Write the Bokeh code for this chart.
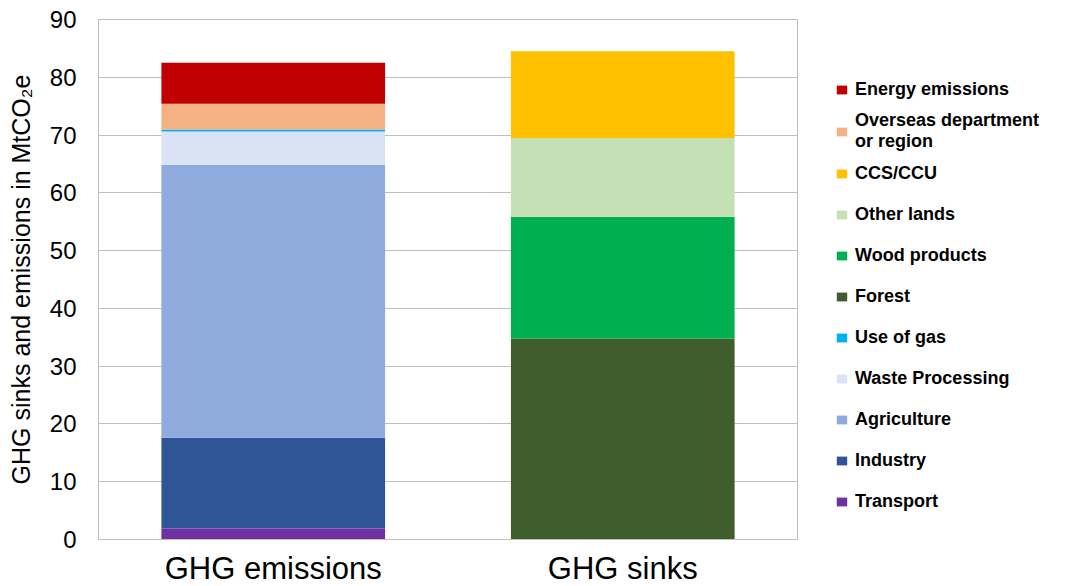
from bokeh.plotting import figure
from bokeh.models import Range1d, Legend, LegendItem, FactorRange
from bokeh.embed import file_html
from bokeh.resources import INLINE

categories = ["GHG emissions", "GHG sinks"]
transport = [1.9, 0]
industry = [15.7, 0]
agriculture = [47.25, 0]
waste = [5.75, 0]
use_of_gas = [0.35, 0]
overseas = [4.45, 0]
energy = [7.1, 0]
forest = [0, 34.8]
wood = [0, 21.0]
other_lands = [0, 13.7]
ccs = [0, 15.0]

series = [
    ("transport", "Transport", transport, "#7030A0"),
    ("industry", "Industry", industry, "#2F5597"),
    ("agriculture", "Agriculture", agriculture, "#8FAADC"),
    ("waste", "Waste Processing", waste, "#DAE3F3"),
    ("gas", "Use of gas", use_of_gas, "#00B0F0"),
    ("overseas", "Overseas department\nor region", overseas, "#F4B183"),
    ("energy", "Energy emissions", energy, "#C00000"),
    ("forest", "Forest", forest, "#3F5E2C"),
    ("wood", "Wood products", wood, "#00B050"),
    ("other", "Other lands", other_lands, "#C5E0B4"),
    ("ccs", "CCS/CCU", ccs, "#FFC000"),
]
legend_order = ["energy", "overseas", "ccs", "other", "wood", "forest",
                "gas", "waste", "agriculture", "industry", "transport"]

data = {"cat": categories}
for key, _, vals, _ in series:
    data[key] = vals

FONT = "Liberation Sans"
GRID = "#BFBFBF"

p = figure(x_range=FactorRange(*categories), y_range=Range1d(0, 90),
           frame_width=699, frame_height=520,
           min_border_left=98, min_border_top=19, min_border_bottom=0,
           output_backend="svg", toolbar_location=None)

renderers = p.vbar_stack([s[0] for s in series], x="cat", width=0.64,
                         source=data, color=[s[3] for s in series],
                         line_color=None)
rmap = {s[0]: r for s, r in zip(series, renderers)}
lmap = {s[0]: s[1] for s in series}

p.outline_line_color = GRID
p.xgrid.grid_line_color = None
p.ygrid.grid_line_color = GRID
p.ygrid.grid_line_width = 1

p.yaxis.ticker = list(range(0, 91, 10))
p.yaxis.axis_line_color = GRID
p.yaxis.major_tick_line_color = None
p.yaxis.minor_tick_line_color = None
p.yaxis.major_tick_out = 0
p.yaxis.minor_tick_out = 0
p.yaxis.major_label_text_font = FONT
p.yaxis.major_label_text_font_size = "24px"
p.yaxis.major_label_text_color = "#000000"
p.yaxis.major_label_standoff = 22
p.yaxis.axis_label = "GHG sinks and emissions in MtCO\u2082e"
p.yaxis.axis_label_text_font = FONT
p.yaxis.axis_label_text_font_size = "25px"
p.yaxis.axis_label_text_font_style = "normal"
p.yaxis.axis_label_text_color = "#000000"
p.yaxis.axis_label_standoff = 12

p.xaxis.axis_line_color = GRID
p.xaxis.major_tick_line_color = None
p.xaxis.minor_tick_line_color = None
p.xaxis.major_tick_out = 0
p.xaxis.minor_tick_out = 0
p.xaxis.major_label_text_font = FONT
p.xaxis.major_label_text_font_size = "31px"
p.xaxis.major_label_text_color = "#000000"
p.xaxis.major_label_standoff = 11

items = [LegendItem(label=lmap[k], renderers=[rmap[k]]) for k in legend_order]
legend = Legend(items=items, location=(38, 18), padding=0, margin=0,
                spacing=1, label_height=40, glyph_width=13, glyph_height=11,
                label_standoff=7, label_text_font=FONT,
                label_text_font_size="18px", label_text_font_style="bold",
                label_text_color="#000000", label_text_line_height=1.1,
                border_line_color=None, background_fill_alpha=0)
p.add_layout(legend, "right")

open("out.html", "w").write(file_html(p, INLINE))
